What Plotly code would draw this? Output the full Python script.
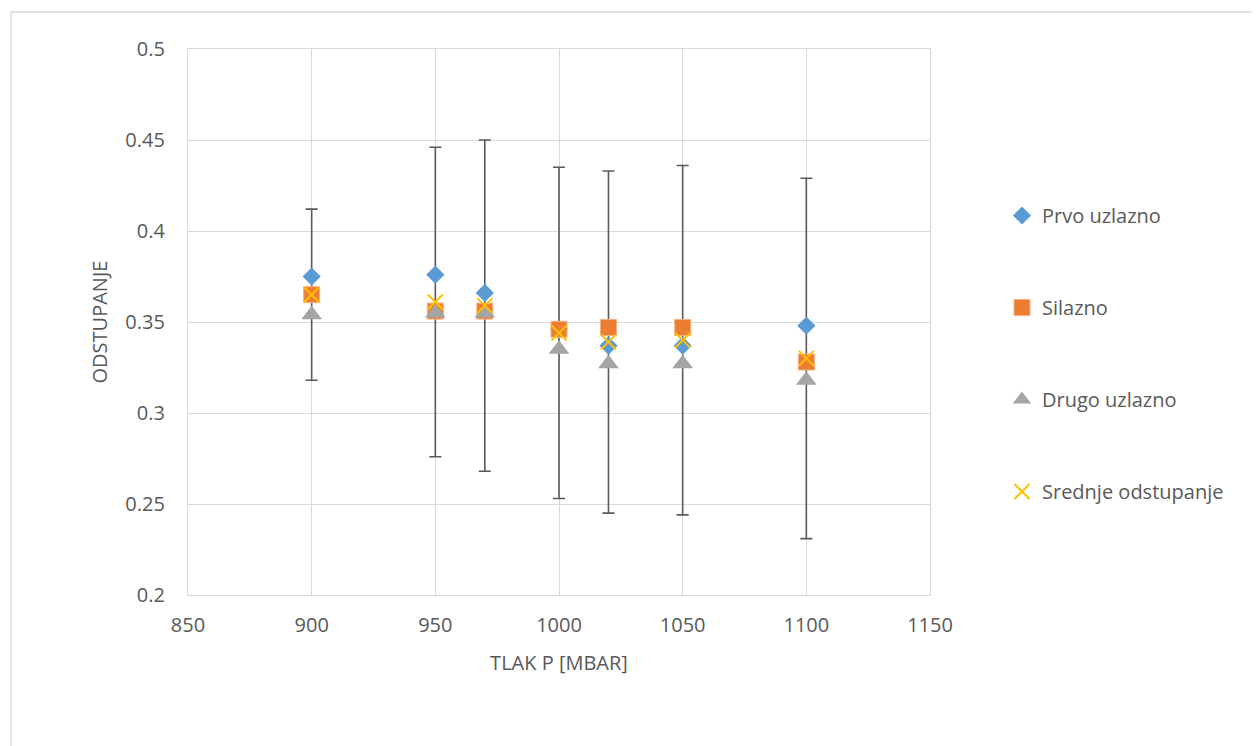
import plotly.graph_objects as go

pressure = [900, 950, 970, 1000, 1020, 1050, 1100]
prvo_uzlazno = [0.375, 0.376, 0.366, 0.346, 0.337, 0.337, 0.348]
silazno = [0.365, 0.356, 0.356, 0.346, 0.347, 0.347, 0.328]
drugo_uzlazno = [0.354, 0.355, 0.355, 0.335, 0.327, 0.327, 0.318]
srednje = [0.365, 0.361, 0.359, 0.344, 0.339, 0.340, 0.330]
srednje_err = [0.047, 0.085, 0.091, 0.091, 0.094, 0.096, 0.099]

x_ticks = [850, 900, 950, 1000, 1050, 1100, 1150]
y_ticks = [0.2, 0.25, 0.3, 0.35, 0.4, 0.45, 0.5]
y_ticklabels = ["0.2", "0.25", "0.3", "0.35", "0.4", "0.45", "0.5"]

FONT = "Open Sans"
TXT = "#595959"
GRID = "#d9d9d9"

fig = go.Figure()

# error bars of the mean series, drawn beneath the markers
fig.add_trace(go.Scatter(
    x=pressure, y=srednje, mode="markers",
    marker=dict(size=1, color="rgba(0,0,0,0)"),
    error_y=dict(type="data", array=srednje_err, visible=True,
                 color="#595959", thickness=1.6, width=6),
    showlegend=False, hoverinfo="skip"))

fig.add_trace(go.Scatter(
    x=pressure, y=prvo_uzlazno, mode="markers", name="Prvo uzlazno",
    legendgroup="a",
    marker=dict(symbol="diamond", size=14, color="#5B9BD5",
                line=dict(width=0))))
fig.add_trace(go.Scatter(
    x=pressure, y=silazno, mode="markers", name="Silazno",
    legendgroup="b",
    marker=dict(symbol="square", size=16, color="#ED7D31",
                line=dict(width=1, color="#F4B183"))))
fig.add_trace(go.Scatter(
    x=pressure, y=drugo_uzlazno, mode="markers", name="Drugo uzlazno",
    legendgroup="c",
    marker=dict(symbol="triangle-up", size=18, color="#A5A5A5",
                line=dict(width=0))))
fig.add_trace(go.Scatter(
    x=pressure, y=srednje, mode="markers", name="Srednje odstupanje",
    legendgroup="d",
    marker=dict(symbol="x-thin", size=15, color="#FFC000",
                line=dict(width=2, color="#FFC000"))))

# page has an 8px body margin, so the figure is drawn 8px right / down
OFF = 8
W, H = 1252, 738
L, T = 188 - OFF, 49 - OFF
pw, ph = 742, 546
R = W - L - pw
B = H - T - ph

def px(xpix):
    return (xpix - OFF - L) / pw

def py(ypix):
    return (H - B - (ypix - OFF)) / ph

fig.update_layout(
    width=W, height=H,
    margin=dict(l=L, r=R, t=T, b=B, pad=0),
    paper_bgcolor="white", plot_bgcolor="white",
    font=dict(family=FONT, size=20, color=TXT),
    showlegend=True,
    legend=dict(x=px(1002), xanchor="left", y=py(196), yanchor="top",
                tracegroupgap=63, font=dict(family=FONT, size=20, color=TXT),
                bgcolor="rgba(0,0,0,0)", itemsizing="trace"),
    xaxis=dict(range=[850, 1150], tickmode="array", tickvals=x_ticks,
               showgrid=True, gridcolor=GRID, gridwidth=1.3,
               zeroline=False, showline=True, linecolor=GRID, linewidth=1.3,
               mirror=True, ticks="outside", ticklen=12,
               tickcolor="rgba(0,0,0,0)",
               tickfont=dict(family=FONT, size=20, color=TXT),
               title=dict(text="TLAK P [MBAR]", standoff=18,
                          font=dict(family=FONT, size=20, color=TXT))),
    yaxis=dict(range=[0.2, 0.5], tickmode="array", tickvals=y_ticks,
               ticktext=y_ticklabels,
               showgrid=True, gridcolor=GRID, gridwidth=1.3,
               zeroline=False, showline=True, linecolor=GRID, linewidth=1.3,
               mirror=True, ticks="outside", ticklen=18,
               tickcolor="rgba(0,0,0,0)",
               tickfont=dict(family=FONT, size=20, color=TXT),
               title=dict(text="ODSTUPANJE", standoff=12,
                          font=dict(family=FONT, size=20, color=TXT))),
    shapes=[dict(type="rect", xref="paper", yref="paper",
                 x0=px(11), x1=px(1270), y0=py(770), y1=py(12),
                 line=dict(color=GRID, width=1.3), fillcolor="rgba(0,0,0,0)",
                 layer="below")],
)

fig.write_html("out.html")
